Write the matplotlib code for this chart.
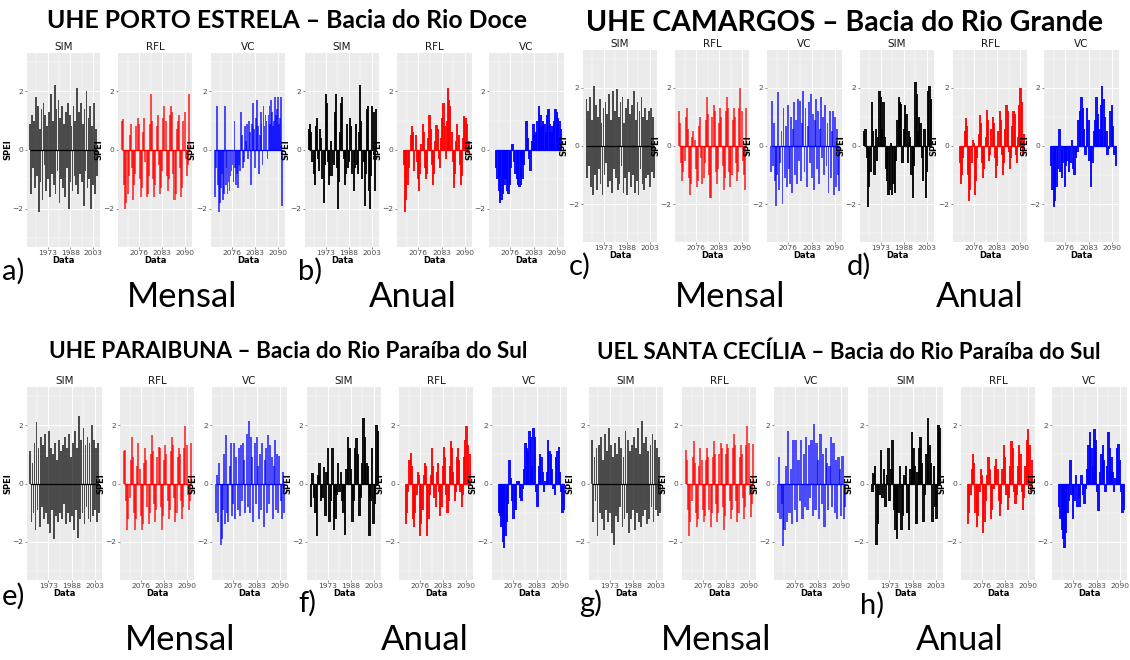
import numpy as np
import matplotlib
matplotlib.use("Agg")
import matplotlib.pyplot as plt
from matplotlib.transforms import Bbox, TransformedBbox

# ---------------- SPEI series (values per bar) ----------------
# Porto Estrela - monthly
a_sim = [0.9,-1.5,1.2,-0.6,1.0,-1.3,1.8,-0.9,1.5,-2.1,0.7,-1.1,1.4,-1.7,1.6,-0.5,1.2,-1.4,0.8,-1.0,
         1.3,-1.6,1.9,-0.8,1.0,-1.2,2.2,-1.5,1.4,-0.7,1.7,-1.8,1.1,-1.0,1.5,-1.3,0.9,-1.6,1.3,-0.6,
         1.6,-2.0,1.2,-1.1,0.8,-1.4,1.5,-0.9,1.0,-1.2,2.1,-1.5,1.3,-0.8,1.6,-1.1,0.9,-1.9,1.4,-0.7,
         2.0,-1.3,1.1,-1.0,1.5,-2.0,0.8,-1.2,1.6,-1.5,0.7,-0.9]
a_rfl = [1.0,1.05,-1.2,-2.0,-1.8,-1.5,-0.9, 0.5,0.9,-0.6,-1.7,-1.2,-0.8, 0.8,1.1,0.9,-1.0,-1.6,-1.3,
         0.6,1.1,-0.4,-1.6,-1.5,-0.9, 0.9,1.9,1.0,-1.0,-1.6,-1.2, 0.8,1.2,-0.5,-1.5,-1.3,-0.7,
         1.1,1.5,1.0,-0.9,-1.4,-1.0, 1.2,1.5,1.3,-0.8,-1.7,-1.5, 0.7,1.0,1.2,-0.6,-1.6,-1.3,
         1.0,1.3,-0.3,-0.9,-0.5, 1.9]
a_vc = [-1.6,-0.6,1.5,-1.2,-2.1,-1.8,-1.3,-0.8,-1.7,-1.5,1.5,-1.2,-0.6,-1.5,-1.1,-1.4,-0.9,-0.7,-0.5,-1.1,
        1.0,-0.6,-1.2,-0.8,-1.3,-0.5,-0.7,1.3,0.5,-0.6,-0.4,0.8,0.3,0.9,-0.3,1.0,0.6,-1.2,0.9,1.6,
        0.7,-0.6,1.1,1.7,0.8,-0.8,0.5,1.3,0.9,-0.5,1.5,0.8,1.2,1.0,-0.3,1.2,1.5,0.9,1.7,1.3,
        0.8,1.0,1.8,1.2,1.4,1.8,0.9,1.1,1.8,-1.9]
# Porto Estrela - annual
b_sim = [0.7,0.9,0.6,-0.4,-0.8,-1.2,0.8,1.1,-0.3,-0.7,0.7,0.4,-1.0,-1.8,-0.5,1.9,1.6,-0.4,-1.2,-0.9,
         0.3,-0.9,-0.5,1.3,1.9,-0.6,-2.0,-1.1,0.6,1.6,1.8,-0.3,-1.2,-0.8,0.9,-0.6,-0.4,1.1,0.8,-0.8,
         -1.4,-0.6,0.9,-0.5,-0.8,0.6,2.2,1.0,-1.0,-0.4,-1.9,-0.8,1.4,1.5,-1.4,-2.0,-0.9,1.5,1.3,-1.4,1.4]
b_rfl = [-0.5,-2.1,-1.7,-1.2,-0.6,0.0,0.5,0.8,0.6,-0.7,0.5,-0.4,-1.0,-1.4,-0.8,0.2,0.9,0.6,-0.6,-1.0,
         -0.8,0.4,1.2,0.7,-0.5,-1.2,-0.8,0.3,0.85,0.7,-0.3,-0.6,0.4,1.1,1.6,0.8,-0.3,1.0,2.1,1.7,
         1.5,0.6,-0.4,-1.3,-0.8,0.3,0.9,0.5,-0.5,-1.2,-0.9,0.4,1.15,1.1,0.9,-0.1,0.3]
b_vc = [-0.6,-1.0,-1.4,-1.8,-1.7,-1.5,-1.2,-1.0,-1.4,-1.5,-1.2,-0.6,0.2,-0.4,-0.8,-1.0,-1.2,-1.25,-1.2,-1.0,
        -0.5,0.0,1.0,0.4,-0.3,-0.7,0.3,0.9,0.5,0.6,1.0,1.5,1.2,0.8,1.0,0.9,0.6,1.2,1.4,0.9,
        0.6,0.8,1.0,1.4,1.3,1.1,1.0,0.7]
# Camargos - monthly
c_sim = [1.6,-1.1,1.2,-0.7,1.7,-1.4,0.9,-1.7,2.05,-1.0,1.4,-1.5,1.0,-0.8,1.6,-1.3,0.8,-1.7,1.3,-1.0,
         1.5,-0.6,1.1,-1.4,1.8,-1.2,0.9,-1.6,1.9,-0.8,1.2,-1.1,1.95,-1.5,1.0,-1.3,1.5,-0.7,1.7,-1.6,
         0.8,-1.1,1.3,-1.7,1.6,-0.9,1.1,-1.4,1.4,-1.0,1.9,-1.6,0.9,-1.2,1.5,-1.7,1.2,-0.8,1.7,-1.3,
         1.0,-1.5,1.3,-1.1,0.9,-1.0,1.2,-1.4,1.3,-0.9,1.0,-1.1]
c_rfl = [1.2,0.8,-0.6,-1.2,-0.9,-0.5, 1.0,1.3,0.6,-1.1,-1.7,-1.3, 0.3,0.5,0.2,-0.8,-1.4,-1.2,
         0.7,1.0,-0.4,-1.3,-1.1,-0.6, 0.9,1.7,1.1,-1.0,-1.8,-1.8, 1.0,1.4,1.2,-0.9,-1.3,-0.8,
         0.8,1.3,1.0,-0.7,-1.5,-1.1, 1.2,1.7,1.3,-0.9,-1.4,-1.0, 0.9,1.3,1.0,-0.6,-1.2,-0.9,
         1.3,2.0,1.2,-0.5,-1.0,-1.5, 1.3]
c_vc = [-0.9,1.55,-0.7,0.8,-1.2,-2.05,-1.0,1.85,-1.5,-0.6,0.5,-2.0,1.3,-1.1,0.7,-1.4,1.4,-0.8,-1.3,1.0,
        -1.6,0.6,1.5,-1.0,0.9,-1.3,1.6,-0.5,1.55,-1.2,0.8,1.9,-0.9,1.3,-1.4,0.7,1.5,-0.6,1.8,-1.1,
        1.1,-1.5,0.9,1.6,-0.8,1.2,-1.3,0.6,1.7,-0.4,1.0,-1.0,1.4,-0.7,0.8,-1.6,1.2,-1.1,0.5,1.2,
        -1.7,1.0,-1.4,0.6,-1.0,-1.55]
# Camargos - annual
d_sim = [0.5,0.6,-0.4,-2.1,-1.4,-0.9,1.5,0.5,-1.0,0.6,-0.5,0.3,1.9,1.7,0.6,1.5,0.3,-0.8,-1.2,-1.7,
         -1.5,0.1,-1.7,-1.3,-1.6,-0.5,0.9,1.7,1.5,1.45,-0.6,0.6,1.4,1.1,-0.6,0.5,0.3,-1.0,-1.8,-0.7,
         2.2,1.8,0.5,1.0,0.8,-0.4,-1.2,0.6,-1.8,-0.9,1.9,2.05,1.6]
d_rfl = [-0.6,-1.3,-1.0,-0.4,0.5,0.95,0.7,-1.0,-1.9,-1.5,-0.6,0.2,0.1,-1.7,-1.2,-0.4,0.4,1.05,0.8,-0.6,
         -1.1,-0.8,0.3,1.25,0.9,-0.5,-0.3,0.6,1.0,0.8,-0.4,-1.1,-0.7,0.5,1.2,0.9,-0.3,-1.0,-0.6,0.6,
         1.4,1.2,-0.2,-0.8,-0.4,0.7,1.2,1.1,-0.3,-0.6,0.3,1.4,2.0,1.5,-0.3,0.4]
d_vc = [-0.7,-1.5,-2.1,-1.9,-1.4,-0.8,0.6,-0.9,-1.1,-0.6,-1.4,-0.7,-0.5,-0.9,-0.6,0.2,-0.8,-1.0,-0.4,-0.2,
        0.9,1.2,1.7,1.3,0.6,-0.3,1.3,0.9,-0.5,-1.4,-0.6,0.5,0.9,1.7,1.1,0.6,1.4,2.05,1.6,1.0,
        0.5,-0.3,-0.1,1.2,1.4,0.7,-0.3,-0.7]
# Paraibuna - monthly
e_sim = [1.1,-1.3,0.7,-1.0,1.4,-1.6,2.1,-0.9,1.2,-1.5,1.6,-0.8,1.3,-1.2,1.7,-1.0,0.9,-1.4,1.8,-1.7,
         1.2,-0.9,1.0,-1.9,1.4,-1.1,0.8,-1.3,1.5,-1.0,1.1,-1.2,1.3,-0.7,1.6,-1.4,1.2,-1.0,1.7,-1.3,
         0.9,-1.1,1.4,-1.6,1.8,-0.9,1.2,-1.85,2.3,-1.2,1.5,-1.0,1.9,-1.4,1.3,-0.8,1.6,-1.2,1.4,-1.3,
         2.0,-1.1,1.5,-0.9,1.2,-1.3,1.4,-1.0]
e_rfl = [1.1,1.15,-0.6,-1.6,-1.2,-0.5, 0.8,1.6,0.9,-1.0,-1.6,-1.2, 0.6,1.4,0.5,-1.1,-1.6,-1.4,
         0.7,1.2,0.8,-0.8,-1.4,-1.0, 1.0,1.65,1.1,-0.7,-1.3,-0.9, 0.9,1.25,1.2,-0.8,-1.6,-1.1,
         0.8,1.3,1.0,-0.6,-1.2,-0.9, 1.1,1.6,1.3,-0.5,-1.3,-1.0, 0.9,1.2,1.0,-0.6,-1.2,-0.8,
         1.2,1.95,1.3,-0.4,-0.9,-0.6, 1.4]
e_vc = [-1.0,0.3,-1.3,0.7,-2.1,-1.9,-0.9,1.0,-1.4,1.65,-1.0,-1.3,0.6,1.4,-1.1,-0.7,1.4,-1.2,0.9,-0.9,
        1.2,-1.1,1.3,-0.6,1.4,0.8,-1.0,1.7,-0.8,2.15,-1.0,1.6,0.9,-1.3,1.4,-0.7,1.6,0.6,-1.2,1.0,
        -0.9,1.4,-1.5,0.8,1.2,-1.0,1.65,-0.7,1.3,0.9,-1.2,0.6,1.5,-0.9,1.0,-1.0,0.95,-0.6,-1.2,0.4,-1.0]
# Paraibuna - annual
f_sim = [-0.8,0.35,-0.5,-1.0,-1.8,0.3,0.7,-0.6,-0.5,0.55,-1.1,0.4,1.2,-1.3,-0.6,1.2,-1.6,-1.2,-0.4,0.7,
         -0.3,0.4,-0.6,-1.0,-1.75,0.5,1.6,1.2,0.5,-1.3,-0.6,1.2,1.55,1.0,-1.1,-0.5,0.7,2.25,1.6,0.7,
         0.6,-1.8,-0.6,1.2,-1.4,-0.7,2.0,1.8]
f_rfl = [-1.4,-1.0,-0.3,0.8,1.05,0.6,-1.2,-1.5,-1.0,-0.4,0.4,0.3,-1.8,-1.4,-0.9,0.3,0.7,0.6,-1.8,-1.2,
         -0.4,0.3,1.2,0.6,-0.5,-0.8,0.4,0.7,-0.3,-1.1,-0.8,0.6,1.25,0.9,-0.4,-1.0,-0.6,0.6,1.45,1.2,
         0.4,-0.6,-0.3,0.9,1.2,0.8,-0.3,-0.8,-0.4,0.9,1.5,1.95,1.3,-0.1,1.0]
f_vc = [-1.0,-1.1,-1.5,-2.0,-2.2,-1.8,-1.3,-0.7,0.8,0.2,-0.6,-1.2,-0.9,-0.9,0.1,0.1,-0.5,-0.6,-0.2,0.5,
        1.4,1.2,1.1,1.8,1.6,0.6,1.9,1.6,-0.3,-0.8,0.6,1.0,0.9,0.4,-0.3,0.1,0.4,1.5,1.1,1.0,
        0.5,-0.2,-0.4,0.9,1.1,1.25,0.4,-0.3,-1.0,-0.9]
# Santa Cecilia - monthly
g_sim = [1.5,-1.3,0.9,-0.6,1.2,-1.8,1.3,-1.0,1.6,-1.2,0.8,-1.6,1.7,-0.9,1.1,-1.3,1.9,-1.0,1.3,-1.7,
         0.9,-2.1,1.4,-1.1,1.0,-1.3,1.6,-0.8,1.2,-1.5,0.9,-1.2,1.8,-1.0,1.5,-1.7,1.1,-1.2,1.3,-0.9,
         1.6,-1.6,1.2,-1.0,1.9,-1.3,1.0,-1.5,2.15,-1.1,1.4,-0.9,1.6,-1.4,1.1,-1.2,1.3,-0.8,1.7,-1.3,
         1.5,-0.9,1.2,-1.1,0.9,-1.0]
g_rfl = [1.15,0.8,-0.9,-1.8,-1.3,-0.6, 0.9,1.45,0.7,-1.0,-1.5,-1.2, 0.6,1.2,0.8,-0.9,-1.3,-1.1,
         0.8,1.2,0.9,-0.9,-1.5,-1.0, 0.9,1.45,1.0,-0.7,-1.3,-1.0, 1.0,1.4,1.2,-0.8,-1.6,-1.1,
         1.0,1.35,1.2,-0.6,-1.2,-0.9, 1.2,1.7,1.3,-0.6,-1.3,-1.0, 0.9,1.3,1.0,-0.5,-1.2,-0.8,
         1.3,1.95,1.4,-0.4,-1.15,-0.7, 1.35]
g_vc = [-1.0,0.9,-1.2,-0.7,-2.15,-1.6,0.6,-1.3,1.8,-1.0,0.5,-1.4,1.5,-0.9,1.5,-1.3,0.8,-0.6,1.5,-1.2,
        1.0,-0.8,1.6,-0.9,1.3,-0.5,1.5,-1.1,2.05,-0.9,1.4,0.8,-1.2,1.7,-0.7,1.0,-1.5,1.2,0.7,-0.9,
        0.6,1.6,-0.8,1.4,-1.0,0.8,-1.2,0.9,0.5,-1.1,0.95,-1.2,-0.8]
# Santa Cecilia - annual
h_sim = [-0.3,0.35,0.6,-2.1,-1.4,-0.4,1.15,-0.5,0.5,-0.8,0.3,1.2,-0.6,0.5,1.5,-0.9,-1.6,-1.9,-1.0,0.6,
         -1.6,-1.1,0.3,0.6,-1.0,-1.6,0.5,1.75,1.2,0.6,-1.4,0.4,1.2,1.6,0.7,-1.3,-0.4,1.0,2.25,1.3,
         0.7,-1.3,0.6,-0.8,-1.2,2.0,1.9]
h_rfl = [-1.4,-1.0,-0.4,0.5,1.0,0.7,-1.0,-1.5,-1.1,-0.3,0.5,0.3,-1.7,-1.3,-0.6,0.3,0.9,0.5,-1.2,-0.9,
         -0.2,0.6,0.85,0.5,-0.6,-1.1,-0.7,0.5,1.3,0.9,-0.4,-0.9,-0.5,0.6,1.45,1.2,-0.3,-0.7,-0.4,0.6,
         1.3,1.0,-0.3,-0.9,-0.5,0.6,1.5,1.85,1.3,-0.3,0.8]
h_vc = [-0.8,-1.2,-1.6,-1.9,-2.2,-1.7,-1.0,-0.6,0.8,-0.4,-1.2,-0.6,0.3,-0.8,-0.5,-0.8,0.3,-0.4,-0.7,-0.2,
        0.5,1.3,1.75,1.2,0.6,1.85,1.5,-0.3,-0.95,0.4,1.0,1.3,0.8,-0.3,0.6,1.75,1.2,0.9,0.4,-0.3,
        0.2,1.2,1.35,0.8,-0.3,-1.0,-0.9]

facet_names = ["SIM", "RFL", "VC"]
sim_ticks = [1973, 1988, 2003]
fut_ticks = [2076, 2083, 2090]

titles = ["UHE PORTO ESTRELA \u2013 Bacia do Rio Doce",
          "UHE CAMARGOS \u2013 Bacia do Rio Grande",
          "UHE PARAIBUNA \u2013 Bacia do Rio Para\u00edba do Sul",
          "UEL SANTA CEC\u00cdLIA \u2013 Bacia do Rio Para\u00edba do Sul"]

# ---------------- figure ----------------
W, H = 1130, 660
fig = plt.figure(figsize=(W / 100, H / 100), dpi=100)
fig.patch.set_facecolor("white")

COLORS = {"SIM": "black", "RFL": "#FF0000", "VC": "#0000FF"}
BG = "#EBEBEB"


def px_axes(x0, x1, y0, y1):
    """Axes from pixel box (left, right, top, bottom)."""
    return fig.add_axes([x0 / W, 1 - y1 / H, (x1 - x0) / W, (y1 - y0) / H])


def spei_panel(box, name, values, monthly):
    ax = px_axes(*box)
    ax.set_facecolor(BG)
    for s in ax.spines.values():
        s.set_visible(False)
    if name == "SIM":
        start, end = (1961.5, 2005.5) if monthly else (1962.0, 2005.5)
        lim, ticks = (1959.3, 2007.6), sim_ticks
        minor = [1965.5, 1980.5, 1995.5]
    else:
        start, end = (2070.8, 2091.2) if monthly else (2071.7, 2091.2)
        lim, ticks = (2069.6, 2092.1), fut_ticks
        minor = [2072.5, 2079.5, 2086.5]
    vals = np.asarray(values, dtype=float)
    x = np.linspace(start, end, len(vals))
    step = x[1] - x[0]
    col = COLORS[name]
    if monthly:
        ax.bar(x, vals, width=step * 1.8, color=col, alpha=0.68, linewidth=0, zorder=3)
    else:
        ax.bar(x, vals, width=step * 1.8, color=col, alpha=0.92, linewidth=0, zorder=3)
    ax.plot([start, end], [0, 0], color=col, lw=0.9, zorder=4, solid_capstyle="butt")
    ax.set_xlim(*lim)
    ax.set_ylim(-3.3, 3.3)
    ax.set_yticks([-2, 0, 2])
    ax.set_yticks([-3, -1, 1, 3], minor=True)
    ax.set_xticks(ticks)
    ax.set_xticks(minor, minor=True)
    ax.set_xticklabels([str(t) for t in ticks])
    ax.grid(True, which="major", color="white", lw=0.7, zorder=0)
    ax.grid(True, which="minor", color="white", lw=0.35, zorder=0)
    ax.set_axisbelow(True)
    ax.tick_params(which="major", length=1.5, width=0.4, color="#333333",
                   labelsize=5.4, labelcolor="#4D4D4D", pad=1)
    ax.tick_params(which="minor", length=0)
    ax.set_xlabel("Data", fontsize=6, fontweight="bold", labelpad=0)
    ax.set_ylabel("SPEI", fontsize=6, fontweight="bold", labelpad=0)
    ax.set_title(name, fontsize=7.5, color="#1A1A1A", pad=2.5)
    clip = TransformedBbox(Bbox([[-0.5, -0.5], [1.03, 1.5]]), ax.transAxes)
    for lab in ax.get_xticklabels():
        lab.set_clip_box(clip)
        lab.set_clip_on(True)
    return ax


groups = [
    # lefts/rights of SIM, RFL, VC ; top ; bottom ; series ; monthly
    ([(27, 100), (118, 192), (211, 285)], 53, 247, [a_sim, a_rfl, a_vc], True),
    ([(305, 379), (397, 472), (489, 564)], 53, 247, [b_sim, b_rfl, b_vc], False),
    ([(583, 657), (675, 749), (767, 842)], 50, 242, [c_sim, c_rfl, c_vc], True),
    ([(860, 934), (953, 1027), (1044, 1119)], 50, 242, [d_sim, d_rfl, d_vc], False),
    ([(27, 102), (120, 194), (212, 287)], 387, 580, [e_sim, e_rfl, e_vc], True),
    ([(307, 381), (399, 473), (492, 567)], 387, 580, [f_sim, f_rfl, f_vc], False),
    ([(589, 663), (682, 756), (774, 848)], 387, 580, [g_sim, g_rfl, g_vc], True),
    ([(868, 943), (961, 1035), (1052, 1127)], 387, 580, [h_sim, h_rfl, h_vc], False),
]

for cols, top, bot, series, monthly in groups:
    for (l, r), name, vals in zip(cols, facet_names, series):
        spei_panel((l, r, top, bot), name, vals, monthly)


def ftext(x, y, s, **kw):
    fig.text(x / W, 1 - y / H, s, **kw)


TFONT = ["Lato", "DejaVu Sans"]
ftext(287, 20, titles[0], ha="center", va="center", fontsize=17.8, fontweight="bold", family=TFONT)
ftext(844, 23, titles[1], ha="center", va="center", fontsize=20.5, fontweight="bold", family=TFONT)
ftext(288, 351, titles[2], ha="center", va="center", fontsize=16.2, fontweight="bold", family=TFONT)
ftext(849, 352, titles[3], ha="center", va="center", fontsize=16.1, fontweight="bold", family=TFONT)

letters = [("a)", 2, 271), ("b)", 298, 271), ("c)", 569, 266), ("d)", 847, 266),
           ("e)", 2, 596), ("f)", 298, 603), ("g)", 579, 603), ("h)", 860, 605)]
for s, x, y in letters:
    ftext(x, y, s, ha="left", va="center", fontsize=21, family=TFONT)

scales = [("Mensal", 182, 297), ("Anual", 413, 297), ("Mensal", 730, 297), ("Anual", 980, 297),
          ("Mensal", 180, 640), ("Anual", 425, 640), ("Mensal", 716, 640), ("Anual", 960, 640)]
for s, x, y in scales:
    ftext(x, y, s, ha="center", va="center", fontsize=25, family=TFONT)

fig.savefig("out.png", dpi=100)
